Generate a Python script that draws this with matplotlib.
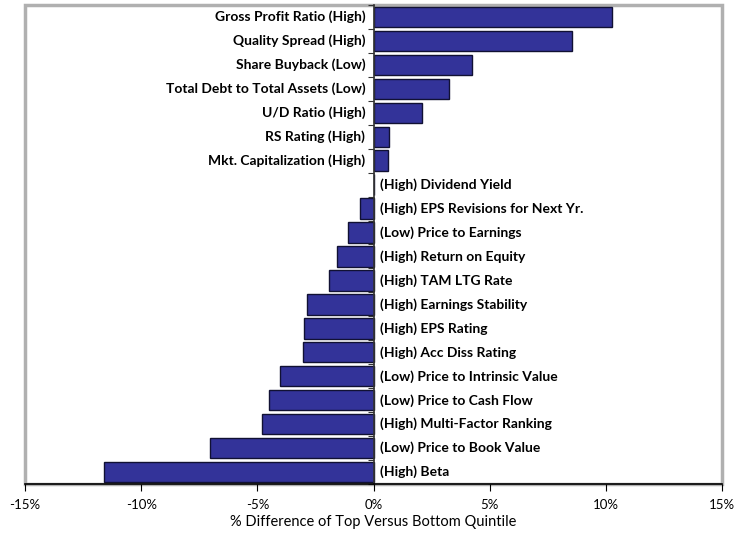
import matplotlib
matplotlib.use("Agg")
import matplotlib.pyplot as plt
from matplotlib.ticker import FuncFormatter

FACTORS = [
    "Gross Profit Ratio (High)", "Quality Spread (High)", "Share Buyback (Low)",
    "Total Debt to Total Assets (Low)", "U/D Ratio (High)", "RS Rating (High)",
    "Mkt. Capitalization (High)", "(High) Dividend Yield",
    "(High) EPS Revisions for Next Yr.", "(Low) Price to Earnings",
    "(High) Return on Equity", "(High) TAM LTG Rate", "(High) Earnings Stability",
    "(High) EPS Rating", "(High) Acc Diss Rating", "(Low) Price to Intrinsic Value",
    "(Low) Price to Cash Flow", "(High) Multi-Factor Ranking",
    "(Low) Price to Book Value", "(High) Beta",
]
DIFF = [10.28, 8.54, 4.24, 3.27, 2.09, 0.67, 0.63, 0.0,
        -0.60, -1.10, -1.59, -1.92, -2.87, -3.01, -3.04,
        -4.03, -4.51, -4.80, -7.05, -11.59]
XTICKS = [-15, -10, -5, 0, 5, 10, 15]

plt.rcParams["font.family"] = ["Lato", "DejaVu Sans"]

fig = plt.figure(figsize=(7.46, 5.34), dpi=100)
ax = fig.add_axes([25 / 746, 1 - 484 / 534, 697 / 746, 479 / 534])

pos = list(range(len(FACTORS)))
ax.barh(pos, DIFF, height=0.85, color="#333399", edgecolor="#111133", linewidth=1)

for y, v, name in zip(pos, DIFF, FACTORS):
    if v > 0:
        ax.annotate(name, (0, y), xytext=(-6, 0), textcoords="offset points",
                    ha="right", va="center", fontsize=10, fontweight="bold")
    else:
        ax.annotate(name, (0, y), xytext=(5, 0), textcoords="offset points",
                    ha="left", va="center", fontsize=10, fontweight="bold")

ax.set_xlim(-15, 15)
ax.set_ylim(len(FACTORS) - 0.5, -0.5)
ax.set_xticks(XTICKS)
ax.xaxis.set_major_formatter(FuncFormatter(lambda v, _: f"{v:.0f}%"))
ax.tick_params(axis="x", length=5, direction="out", labelsize=9.5, pad=6)
ax.set_xlabel("% Difference of Top Versus Bottom Quintile", fontsize=10.5, labelpad=3)

# zero axis with category separators
ax.spines["left"].set_position(("data", 0))
ax.spines["left"].set_color("#333333")
ax.spines["left"].set_linewidth(1.2)
ax.set_yticks([p - 0.5 for p in pos] + [len(FACTORS) - 0.5])
ax.set_yticklabels([])
ax.tick_params(axis="y", length=4, direction="out", color="#333333")
ax.spines["top"].set_visible(False)
ax.spines["right"].set_visible(False)
ax.spines["bottom"].set_linewidth(1.2)

ax.patch.set_edgecolor("#b0b0b0")
ax.patch.set_linewidth(2.5)

fig.savefig("out.png", dpi=100)
